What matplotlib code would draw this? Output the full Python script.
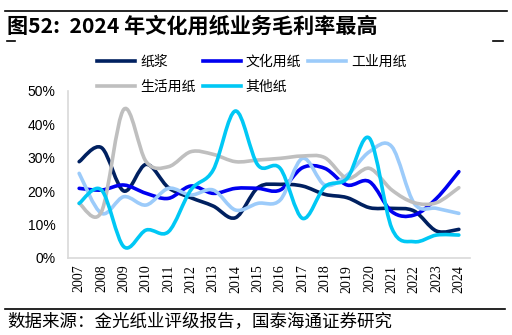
"""
Gross margin by paper business line, 2007-2024 (smoothed lines, Excel style)
"""

import matplotlib
matplotlib.use("Agg")
import matplotlib.pyplot as plt
from matplotlib.lines import Line2D
from matplotlib.patches import PathPatch
from matplotlib.path import Path
from matplotlib.ticker import FuncFormatter

plt.rcParams['font.family'] = ['Noto Sans CJK SC', 'DejaVu Sans']

years = [str(y) for y in range(2007, 2025)]
series_names = ["纸浆", "文化用纸", "工业用纸", "生活用纸", "其他纸"]
pulp = [28.8, 33.0, 20.0, 28.0, 21.0, 18.0, 15.5, 12.0, 21.0, 22.0, 21.5, 19.0, 18.0, 15.0, 14.8, 14.0, 8.0, 8.5]
culture = [20.8, 20.3, 21.8, 19.3, 17.8, 21.5, 19.3, 20.8, 20.8, 20.3, 27.0, 26.8, 21.8, 22.8, 13.8, 12.8, 17.8, 25.8]
industrial = [25.3, 13.3, 18.3, 15.8, 20.8, 18.8, 20.3, 14.3, 16.3, 17.3, 29.8, 21.8, 24.8, 31.8, 33.3, 16.3, 14.8, 13.3]
household = [16.3, 13.8, 44.5, 28.8, 27.3, 31.8, 31.0, 28.8, 29.3, 29.8, 30.5, 30.0, 23.8, 26.8, 20.3, 16.5, 16.5, 21.0]
other = [16.3, 20.3, 3.3, 8.3, 7.8, 20.3, 26.3, 44.0, 27.8, 26.8, 11.8, 21.3, 23.8, 35.8, 8.8, 4.8, 6.8, 6.8]
colors = ["#002060", "#0000F0", "#9CCBFA", "#BFBFBF", "#00C8F5"]


def smooth_path(xs, ys):
    """Bezier path through the points, same kind of smoothing as Excel"""
    pts = list(zip(xs, ys))
    n = len(pts)
    verts = [pts[0]]
    codes = [Path.MOVETO]
    for i in range(n - 1):
        p0 = pts[max(i - 1, 0)]
        p1 = pts[i]
        p2 = pts[i + 1]
        p3 = pts[min(i + 2, n - 1)]
        c1 = (p1[0] + (p2[0] - p0[0]) / 6, p1[1] + (p2[1] - p0[1]) / 6)
        c2 = (p2[0] - (p3[0] - p1[0]) / 6, p2[1] - (p3[1] - p1[1]) / 6)
        verts += [c1, c2, p2]
        codes += [Path.CURVE4] * 3
    return Path(verts, codes)


fig = plt.figure(figsize=(5.12, 3.35), dpi=100)
ax = fig.add_axes([0.1328, 0.2307, 0.918 - 0.1328, 0.7284 - 0.2307])

x = list(range(len(years)))
handles = []
for name, vals, c in zip(series_names, [pulp, culture, industrial, household, other], colors):
    patch = PathPatch(smooth_path(x, [v / 100 for v in vals]), facecolor="none",
                      edgecolor=c, lw=2.6, capstyle="round", joinstyle="round")
    ax.add_patch(patch)
    handles.append(Line2D([], [], color=c, lw=2.6, label=name))

ax.set_xlim(-0.5, 17.5)
ax.set_ylim(0, 0.5)
ax.set_xticks(x)
ax.set_xticklabels(years, rotation=90, family="Liberation Serif", fontsize=10)
ax.set_yticks([0, 0.1, 0.2, 0.3, 0.4, 0.5])
ax.yaxis.set_major_formatter(FuncFormatter(lambda v, p: f"{v * 100:.0f}%"))
for lab in ax.get_yticklabels():
    lab.set_family("Liberation Sans")
    lab.set_fontsize(10)
ax.tick_params(axis="y", length=0, pad=9)
ax.tick_params(axis="x", length=0, pad=5)
for s in ["top", "right"]:
    ax.spines[s].set_visible(False)
for s in ["left", "bottom"]:
    ax.spines[s].set_color("#D9D9D9")
    ax.spines[s].set_linewidth(1.2)

# legend is filled column by column, so reorder to get the row layout of the original
leg_order = [0, 3, 1, 4, 2]
fig.legend(handles=[handles[i] for i in leg_order], ncol=3, loc="upper left",
           bbox_to_anchor=(97 / 512, 1 - 55 / 335),
           frameon=False, fontsize=10, handlelength=2.75, handletextpad=0.35,
           columnspacing=0.5, borderpad=0, borderaxespad=0, labelspacing=0.75)

# header / footer rules and texts
fig.add_artist(Line2D([5 / 512, 507 / 512], [1 - 11 / 335] * 2, color="black", lw=1.2))
fig.add_artist(Line2D([7 / 512, 15 / 512], [1 - 41 / 335] * 2, color="black", lw=1.2))
fig.add_artist(Line2D([493 / 512, 503 / 512], [1 - 41 / 335] * 2, color="black", lw=1.2))
fig.add_artist(Line2D([5 / 512, 505 / 512], [1 - 309 / 335] * 2, color="black", lw=1.2))
fig.text(7 / 512, 1 - 26 / 335, "图52:  2024 年文化用纸业务毛利率最高", fontsize=15.2,
         fontweight="bold", va="center", ha="left")
fig.text(7 / 512, 1 - 322 / 335, "数据来源：金光纸业评级报告，国泰海通证券研究", fontsize=12.6,
         va="center", ha="left")

fig.savefig("out.png", dpi=100)
